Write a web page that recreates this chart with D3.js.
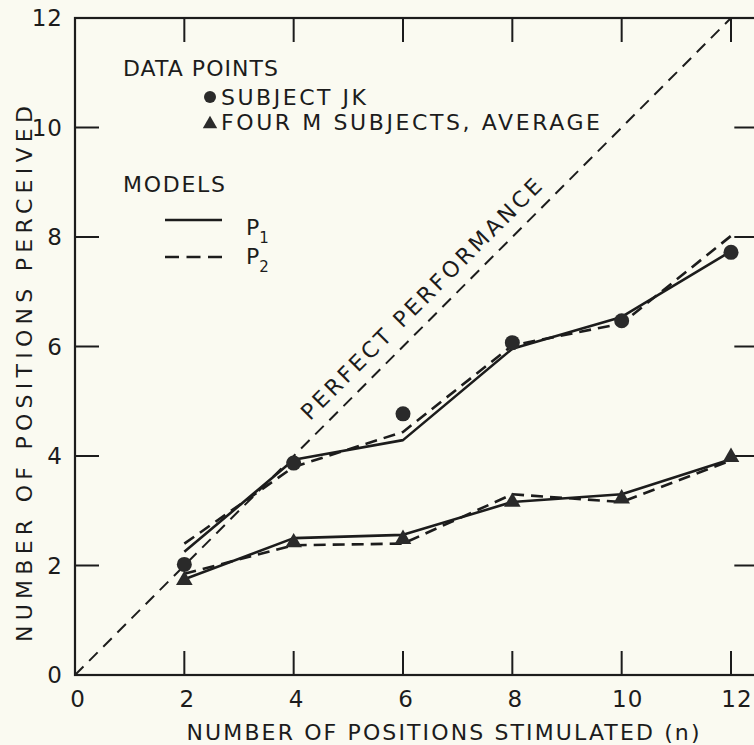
<!DOCTYPE html>
<html>
<head>
<meta charset="utf-8">
<script src="https://cdn.jsdelivr.net/npm/d3@7"></script>
<style>
  html, body { margin: 0; padding: 0; background: #fafaf1; }
  svg { display: block; }
  text { font-family: "DejaVu Sans", sans-serif; fill: #1c1c1c; }
</style>
</head>
<body>
<svg id="chart" width="754" height="745"></svg>
<script>
// Number of positions stimulated (n)
const positions = [2, 4, 6, 8, 10, 12];

// Observed data points
const subjectJK = [2.02, 3.87, 4.77, 6.07, 6.47, 7.72];
const fourMAverage = [1.73, 2.42, 2.48, 3.16, 3.22, 3.98];

// Model predictions: P1 (solid) and P2 (dashed)
const jkP1 = [2.25, 3.93, 4.29, 5.96, 6.54, 7.74];
const jkP2 = [2.4, 3.8, 4.44, 6.02, 6.42, 8.02];
const mP1 = [1.75, 2.5, 2.56, 3.16, 3.3, 3.94];
const mP2 = [1.85, 2.37, 2.4, 3.3, 3.16, 3.92];

const xTicks = [0, 2, 4, 6, 8, 10, 12];
const yTicks = [0, 2, 4, 6, 8, 10, 12];

const ink = "#1c1c1c";
const svg = d3.select("#chart");

const x = d3.scaleLinear().domain([0, 12]).range([75, 731]);
const y = d3.scaleLinear().domain([0, 12]).range([675, 18]);
const xRight = 12.5;

const g = svg.append("g");

// Frame
g.append("rect")
  .attr("x", x(0)).attr("y", y(12))
  .attr("width", x(xRight) - x(0)).attr("height", y(0) - y(12))
  .attr("fill", "none").attr("stroke", ink).attr("stroke-width", 2.2);

// Inward ticks on all four sides
const tickLen = 24;
const inner = xTicks.filter(d => d > 0);
g.selectAll(".tb").data(inner).join("line")
  .attr("x1", d => x(d)).attr("x2", d => x(d))
  .attr("y1", y(0)).attr("y2", y(0) - tickLen)
  .attr("stroke", ink).attr("stroke-width", 2);
g.selectAll(".tt").data(inner).join("line")
  .attr("x1", d => x(d)).attr("x2", d => x(d))
  .attr("y1", y(12)).attr("y2", y(12) + tickLen)
  .attr("stroke", ink).attr("stroke-width", 2);
const innerY = yTicks.filter(d => d > 0 && d < 12);
g.selectAll(".tl").data(innerY).join("line")
  .attr("x1", x(0)).attr("x2", x(0) + tickLen)
  .attr("y1", d => y(d)).attr("y2", d => y(d))
  .attr("stroke", ink).attr("stroke-width", 2);
g.selectAll(".tr").data(innerY).join("line")
  .attr("x1", x(xRight)).attr("x2", x(xRight) - tickLen)
  .attr("y1", d => y(d)).attr("y2", d => y(d))
  .attr("stroke", ink).attr("stroke-width", 2);

// Tick labels
g.selectAll(".xl").data(xTicks).join("text")
  .attr("x", d => x(d) + (d >= 10 ? 6 : 3)).attr("y", 707)
  .attr("text-anchor", "middle").attr("font-size", 23)
  .attr("letter-spacing", 1)
  .text(d => d);
g.selectAll(".yl").data(yTicks).join("text")
  .attr("x", 63).attr("y", d => y(d) + 8)
  .attr("text-anchor", "end").attr("font-size", 23)
  .attr("letter-spacing", 1)
  .text(d => d);

// Axis titles
g.append("text")
  .attr("x", 443).attr("y", 740)
  .attr("text-anchor", "middle").attr("font-size", 22)
  .attr("textLength", 513).attr("lengthAdjust", "spacing")
  .text("NUMBER OF POSITIONS STIMULATED (n)");
g.append("text")
  .attr("transform", "translate(32,374) rotate(-90)")
  .attr("text-anchor", "middle").attr("font-size", 22)
  .attr("textLength", 536).attr("lengthAdjust", "spacing")
  .text("NUMBER OF POSITIONS PERCEIVED");

// Perfect performance diagonal
g.append("line")
  .attr("x1", x(0)).attr("y1", y(0)).attr("x2", x(12)).attr("y2", y(12))
  .attr("stroke", ink).attr("stroke-width", 2)
  .attr("stroke-dasharray", "12,8");

const mid = 6.6;
g.append("text")
  .attr("transform", `translate(${x(mid)},${y(mid)}) rotate(-45) translate(0,-13)`)
  .attr("text-anchor", "middle").attr("font-size", 22)
  .attr("textLength", 330).attr("lengthAdjust", "spacing")
  .text("PERFECT PERFORMANCE");

// Model curves
const line = d3.line().x((d, i) => x(positions[i])).y(d => y(d));
const models = [
  { v: jkP1, dash: null },
  { v: jkP2, dash: "12,7" },
  { v: mP1, dash: null },
  { v: mP2, dash: "12,7" }
];
g.selectAll(".model").data(models).join("path")
  .attr("d", d => line(d.v))
  .attr("fill", "none").attr("stroke", ink).attr("stroke-width", 2.6)
  .attr("stroke-linejoin", "round")
  .attr("stroke-dasharray", d => d.dash);

// Data markers
g.selectAll(".jk").data(subjectJK).join("circle")
  .attr("cx", (d, i) => x(positions[i])).attr("cy", d => y(d))
  .attr("r", 7.5).attr("fill", "#2a2a2a");
const tri = d3.symbol().type(d3.symbolTriangle).size(120);
g.selectAll(".m").data(fourMAverage).join("path")
  .attr("transform", (d, i) => `translate(${x(positions[i])},${y(d)})`)
  .attr("d", tri).attr("fill", "#2a2a2a");

// Legend
const lg = g.append("g").attr("font-size", 22);
const legendText = (tx, ty, len, s) =>
  lg.append("text").attr("x", tx).attr("y", ty)
    .attr("textLength", len).attr("lengthAdjust", "spacing").text(s);
legendText(123, 76, 155, "DATA POINTS");
lg.append("circle").attr("cx", 210).attr("cy", 97).attr("r", 6).attr("fill", "#2a2a2a");
legendText(221, 105, 145, "SUBJECT JK");
lg.append("path").attr("transform", "translate(210,124)")
  .attr("d", d3.symbol().type(d3.symbolTriangle).size(90)).attr("fill", "#2a2a2a");
legendText(221, 130, 379, "FOUR M SUBJECTS, AVERAGE");
legendText(123, 192, 102, "MODELS");

lg.append("line").attr("x1", 165).attr("x2", 222).attr("y1", 220).attr("y2", 220)
  .attr("stroke", ink).attr("stroke-width", 2.4);
lg.append("line").attr("x1", 165).attr("x2", 222).attr("y1", 257).attr("y2", 257)
  .attr("stroke", ink).attr("stroke-width", 2.4).attr("stroke-dasharray", "14,7.5");

const p1 = lg.append("text").attr("x", 246).attr("y", 235);
p1.append("tspan").text("P");
p1.append("tspan").attr("dy", 8).attr("font-size", 15).text("1");
const p2 = lg.append("text").attr("x", 246).attr("y", 264);
p2.append("tspan").text("P");
p2.append("tspan").attr("dy", 8).attr("font-size", 15).text("2");
</script>
</body>
</html>
